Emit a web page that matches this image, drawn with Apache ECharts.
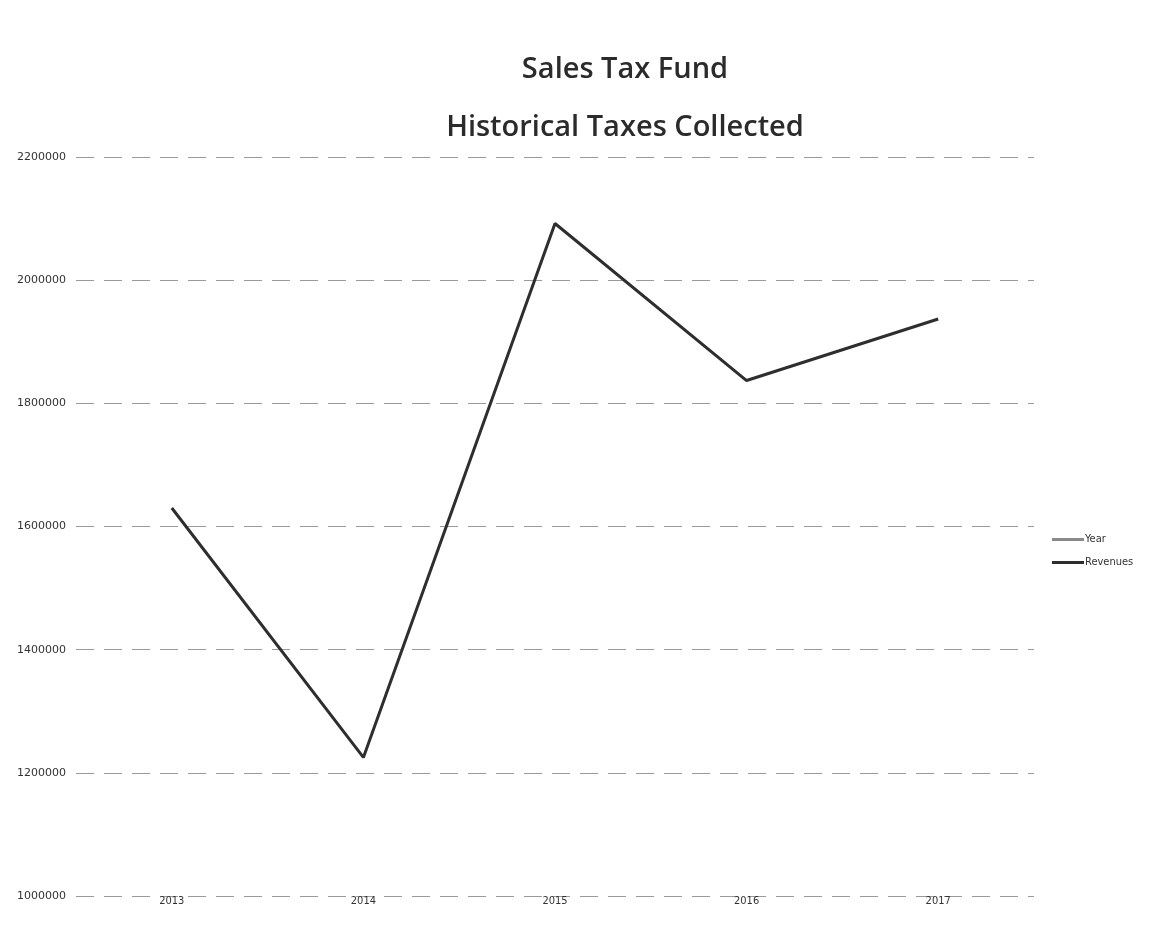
<!DOCTYPE html>
<html>
<head>
<meta charset="utf-8">
<script src="https://cdn.jsdelivr.net/npm/echarts@6/dist/echarts.min.js"></script>
<style>html,body{margin:0;padding:0;background:#fff}#c{width:1151px;height:939px}</style>
</head>
<body>
<div id="c"></div>
<script>
const categories = ['2013', '2014', '2015', '2016', '2017'];
const yearValues = [2013, 2014, 2015, 2016, 2017];
const revenues = [1630000, 1225000, 2092000, 1837000, 1937000];
const yTicks = [1000000, 1200000, 1400000, 1600000, 1800000, 2000000, 2200000];

const chart = echarts.init(document.getElementById('c'));
chart.setOption({
  backgroundColor: '#ffffff',
  animation: false,
  title: {
    text: 'Sales Tax Fund\nHistorical Taxes Collected',
    left: 620,
    top: 36,
    textAlign: 'center',
    textStyle: {
      fontFamily: 'Open Sans',
      fontSize: 29,
      fontWeight: 600,
      color: '#2b2b2b',
      lineHeight: 58
    }
  },
  legend: {
    orient: 'vertical',
    left: 1047,
    top: 529,
    itemGap: 12,
    itemWidth: 32,
    itemHeight: 3,
    icon: 'rect',
    textStyle: { fontFamily: 'DejaVu Sans Condensed', fontSize: 11, color: '#333', padding: [0, 0, 0, -4] },
    data: ['Year', 'Revenues']
  },
  grid: { left: 76, right: 117, top: 157, bottom: 43 },
  xAxis: {
    type: 'category',
    data: categories,
    boundaryGap: true,
    axisLine: { show: false },
    axisTick: { show: false },
    axisLabel: { fontFamily: 'DejaVu Sans Condensed', fontSize: 11, color: '#333', margin: 0 }
  },
  yAxis: {
    type: 'value',
    min: yTicks[0],
    max: yTicks[yTicks.length - 1],
    interval: 200000,
    axisLine: { show: false },
    axisTick: { show: false },
    axisLabel: { fontFamily: 'DejaVu Sans', fontSize: 11, color: '#333', margin: 10, formatter: v => String(v) },
    splitLine: { lineStyle: { color: '#9a9a9a', type: [18, 10], width: 1 } }
  },
  series: [
    {
      name: 'Year',
      type: 'line',
      data: yearValues,
      clip: true,
      symbol: 'none',
      lineStyle: { color: '#8a8a8a', width: 3 },
      itemStyle: { color: '#8a8a8a' }
    },
    {
      name: 'Revenues',
      type: 'line',
      data: revenues,
      symbol: 'none',
      lineStyle: { color: '#2e2e2e', width: 3 },
      itemStyle: { color: '#2e2e2e' }
    }
  ]
});
</script>
</body>
</html>
